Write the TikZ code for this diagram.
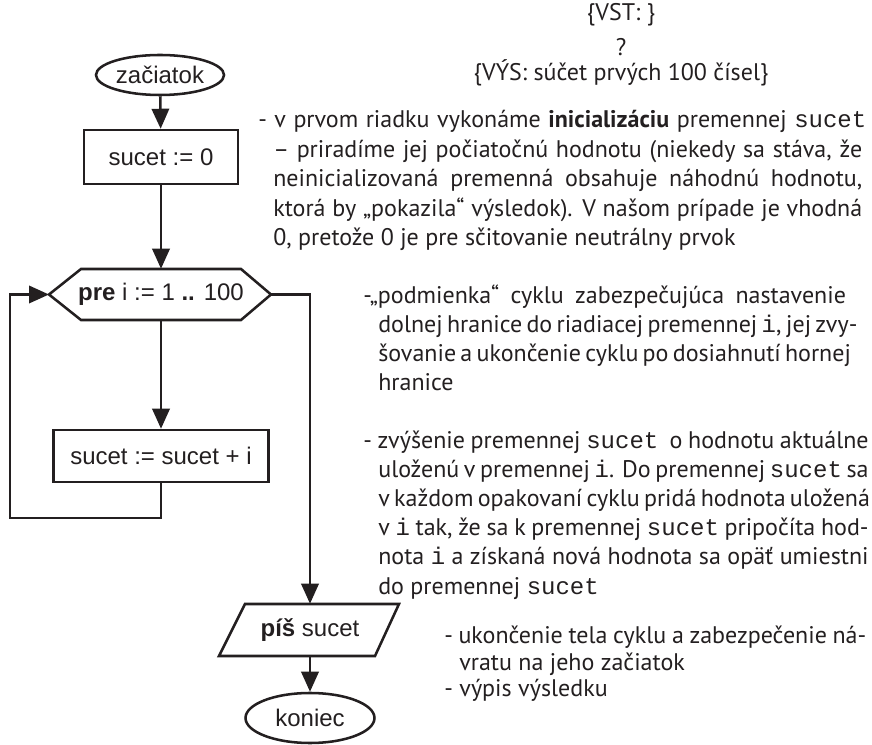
\documentclass[tikz,border=0pt]{standalone}
\usepackage{fontspec}
\setmainfont{PT Sans}
\newfontfamily\flowfont{Liberation Sans}
\newfontfamily\codefont{Liberation Mono}
\usetikzlibrary{shapes.geometric,arrows.meta,calc}
\definecolor{ink}{HTML}{231F20}
\newcommand{\code}[1]{{\codefont #1}}
\newcommand{\jl}[2]{\makebox[#1][s]{#2}}
\newcommand{\ind}{\hphantom{- }}

\begin{document}
\begin{tikzpicture}[x=0.75pt,y=-0.75pt,
  every node/.style={text=ink},
  shapeline/.style={draw=ink,line width=1.9pt},
  flowtext/.style={font=\flowfont\fontsize{18}{21}\selectfont},
  terminal/.style={shapeline,flowtext,ellipse,inner sep=0pt},
  procbox/.style={shapeline,flowtext,rectangle,inner sep=0pt},
  ghost/.style={flowtext,rectangle,inner sep=0pt},
  flow/.style={draw=ink,line width=1.9pt,-{Triangle[length=15pt,width=13pt]}},
  note/.style={font=\fontsize{18}{22}\selectfont,anchor=base west,inner sep=0pt},
  head/.style={font=\fontsize{18}{22}\selectfont,anchor=base,inner sep=0pt}
]
\useasboundingbox (0,0) rectangle (872,745);

% ---------- flowchart ----------
\node[terminal,minimum width=96pt,minimum height=30pt] (start) at (160,75) {začiatok};
\node[procbox,minimum width=115.5pt,minimum height=40.5pt] (init) at (161,157) {sucet := 0};
\node[ghost,minimum width=120pt,minimum height=38.25pt] (loop) at (161,294.5) {\textbf{pre} i := 1 \textbf{..} 100};
\coordinate (hexW) at ($(loop.center)+(-112,0)$);
\coordinate (hexE) at ($(loop.center)+(110,0)$);
\draw[shapeline,line join=miter]
  ($(loop.center)+(-80,-25.5)$) -- ($(loop.center)+(80,-25.5)$) -- (hexE)
  -- ($(loop.center)+(80,25.5)$) -- ($(loop.center)+(-80,25.5)$) -- (hexW) -- cycle;
\node[procbox,minimum width=161.25pt,minimum height=39pt] (add) at (161,456) {sucet := sucet + i};
\node[ghost,minimum width=116pt,minimum height=39pt] (out) at (310,630) {\textbf{píš} sucet};
\draw[shapeline,line join=miter]
  ($(out.center)+(-65,-26)$) -- ($(out.center)+(89,-26)$)
  -- ($(out.center)+(65,26)$) -- ($(out.center)+(-91,26)$) -- cycle;
\node[terminal,minimum width=96.75pt,minimum height=37.5pt] (stop) at (310,718) {koniec};

\coordinate (back) at (10,518);

\draw[flow] (start) -- (init);
\draw[flow] (init.south) -- (loop.north);
\draw[flow] (loop.south) -- (add.north);
\draw[flow] (add.south) |- (back) |- (hexW);
\draw[flow] (hexE) -| (out.north);
\draw[flow] (out.south) -- (stop.north);

% ---------- specification ----------
\node[head] (vst) at (621,21) {\{VST: \}};
\node[head] (q) at (621,56) {?};
\node[head] (vys) at (621,81) {\{VÝS: súčet prvých 100 čísel\}};

% ---------- comments ----------
\node[note] (p1a) at (258,128) {\jl{456pt}{- v prvom riadku vykonáme \textbf{inicializáciu} premennej \code{sucet}}};
\node[note] (p1b) at (258,157.5) {\jl{453pt}{\ind– priradíme jej počiatočnú hodnotu (niekedy sa stáva, že}};
\node[note] (p1c) at (258,187) {\jl{453pt}{\ind neinicializovaná premenná obsahuje náhodnú hodnotu,}};
\node[note] (p1d) at (258,216.5) {\jl{453pt}{\ind ktorá by „pokazila“ výsledok). V~našom prípade je vhodná}};
\node[note] (p1e) at (258,246) {\ind 0, pretože 0 je pre sčitovanie neutrálny prvok};

\node[note] (p2a) at (363,304) {\jl{362pt}{-„podmienka“ cyklu zabezpečujúca nastavenie}};
\node[note] (p2b) at (363,333) {\jl{362pt}{\ind dolnej hranice do riadiacej premennej \code{i}, jej zvy-}};
\node[note] (p2c) at (363,362) {\jl{362pt}{\ind šovanie a ukončenie cyklu po dosiahnutí hornej}};
\node[note] (p2d) at (363,391) {\ind hranice};

\node[note] (p3a) at (363,449) {\jl{379pt}{- zvýšenie premennej \code{sucet}\ \ o hodnotu aktuálne}};
\node[note] (p3b) at (363,478) {\jl{379pt}{\ind uloženú v~premennej \code{i}. Do premennej \code{sucet} sa}};
\node[note] (p3c) at (363,507) {\jl{379pt}{\ind v každom opakovaní cyklu pridá hodnota uložená}};
\node[note] (p3d) at (363,536) {\jl{379pt}{\ind v \code{i} tak, že sa k premennej \code{sucet} pripočíta hod-}};
\node[note] (p3e) at (363,565) {\jl{379pt}{\ind nota \code{i} a získaná nová hodnota sa opäť umiestni}};
\node[note] (p3f) at (363,594) {\ind do premennej \code{sucet}};

\node[note] (p4a) at (444,643) {\jl{316.5pt}{- ukončenie tela cyklu a zabezpečenie ná-}};
\node[note] (p4b) at (444,670) {\ind vratu na jeho začiatok};
\node[note] (p4c) at (444,696) {- výpis výsledku};
\end{tikzpicture}
\end{document}
